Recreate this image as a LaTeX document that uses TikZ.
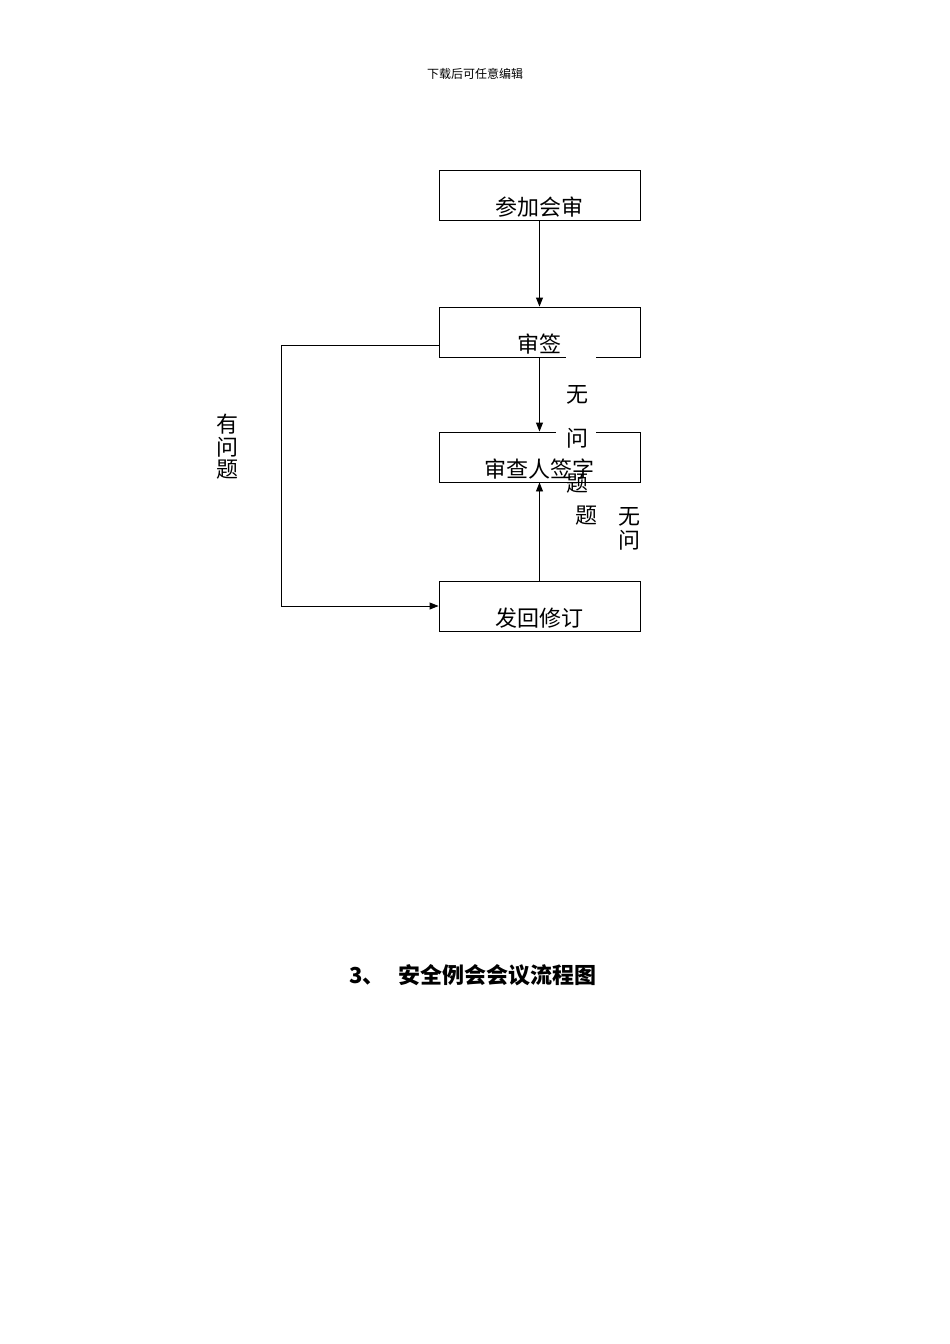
\documentclass[tikz,border=0pt]{standalone}
\usepackage{fontspec}
\setmainfont{Liberation Serif}
\newfontfamily\cjk{Noto Sans CJK SC}
\usetikzlibrary{arrows.meta}
\begin{document}
\begin{tikzpicture}[x=1pt,y=-1pt,
  box/.style={draw,line width=0.9pt,minimum width=201pt,minimum height=50pt,inner sep=0pt},
  lbl/.style={font=\cjk\fontsize{22}{22}\selectfont,inner sep=0pt},
  arr/.style={line width=0.9pt,-{Triangle[length=9pt,width=7pt]}}]
\useasboundingbox[fill=white] (0,0) rectangle (950,1344);
\node[font=\cjk\fontsize{12}{12}\selectfont] (hdr) at (475,74) {下载后可任意编辑};
\node[box] (b1) at (539.5,195) {};
\node[box] (b2) at (539.5,332) {};
\node[box] (b3) at (539.5,457) {};
\node[box] (b4) at (539.5,606) {};
\node[lbl] (t1) at (539,207) {参加会审};
\node[lbl] (t2) at (539,344) {审签};
\node[lbl] (t3) at (539,469) {审查人签字};
\node[lbl] (t4) at (539,618) {发回修订};
\coordinate (c1) at (281,345);
\coordinate (c2) at (281,606);
\draw[arr] (b1.south) -- (b2.north);
\draw[arr] (b2.south) -- (b3.north);
\draw[arr] (b4.north) -- (b3.south);
\draw[arr] (b2.west |- c1) -- (c1) -- (c2) -- (b4.west);
\node[lbl] (y1) at (227,424) {有};
\node[lbl] (y2) at (227,447) {问};
\node[lbl] (y3) at (227,470) {题};
\fill[white] (566,355) rectangle (596,358.5);
\fill[white] (556,430.5) rectangle (596,433.5);
\node[lbl] (n1) at (577,395) {无};
\node[lbl] (n2) at (577,438) {问};
\node[lbl] (n3) at (577,484) {题};
\node[lbl] (n4) at (586,516) {题};
\node[lbl] (m1) at (629,517) {无};
\node[lbl] (m2) at (629,540) {问};
\node[font=\cjk\bfseries\fontsize{22}{22}\selectfont,anchor=west] (title) at (346,975) {3、\hspace{14pt}安全例会会议流程图};
\end{tikzpicture}
\end{document}
